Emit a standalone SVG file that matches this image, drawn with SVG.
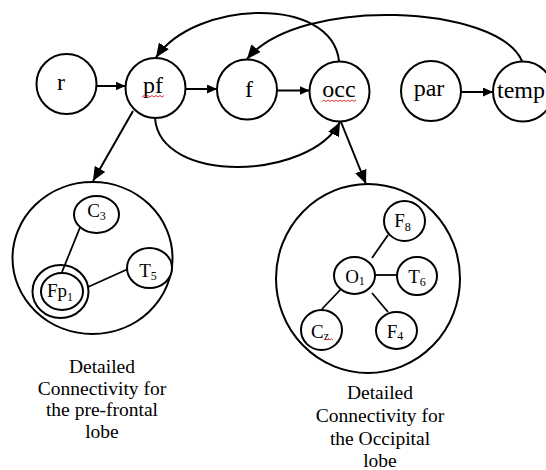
<svg xmlns="http://www.w3.org/2000/svg" width="546" height="470" viewBox="0 0 546 470">
<defs>
<marker id="ah" markerUnits="userSpaceOnUse" markerWidth="14" markerHeight="12" refX="14" refY="6" orient="auto"><path d="M0,0 L14,6 L0,12 z" fill="#000"/></marker>
<marker id="as" markerUnits="userSpaceOnUse" markerWidth="10" markerHeight="9" refX="10" refY="4.5" orient="auto"><path d="M0,0 L10,4.5 L0,9 z" fill="#000"/></marker>
</defs>
<style>
.n{fill:#fff;stroke:#000;stroke-width:2}
.o{fill:none;stroke:#000;stroke-width:2}
.e{fill:none;stroke:#000;stroke-width:2}
.l{fill:none;stroke:#000;stroke-width:1.8}
text{font-family:"Liberation Serif","DejaVu Serif","Times New Roman",Times,serif;fill:#000;text-anchor:middle}
.t{font-size:24px}
.s{font-size:19px}
.c{font-size:19.5px}
.w{fill:none;stroke:#e02020;stroke-width:0.9}
</style>
<g id="connectors">
<path class="e" d="M97 86 L125.5 86" marker-end="url(#as)"/>
<path class="e" d="M185.5 89 L217 89" marker-end="url(#as)"/>
<path class="e" d="M277 90.5 L309.5 90.5" marker-end="url(#as)"/>
<path class="e" d="M461 92 L493 92" marker-end="url(#as)"/>
<path class="e" d="M339 61 C332 -5, 195 0, 156 57.5" marker-end="url(#ah)"/>
<path class="e" d="M522 61 C498 5, 300 -5, 247 59" marker-end="url(#ah)"/>
<path class="e" d="M155 118 C160 185, 310 180, 340 122" marker-end="url(#ah)"/>
<path class="e" d="M133 111 L93 181" marker-end="url(#ah)"/>
<path class="e" d="M341 122 L366 184" marker-end="url(#ah)"/>
</g>
<g id="node-r"><circle class="n" cx="66.5" cy="84" r="30"/><text class="t" x="61" y="90" font-family="Liberation Serif, serif">r</text></g>
<g id="node-pf"><circle class="n" cx="155.5" cy="88" r="30"/><text class="t" x="153" y="93">pf</text>
<path class="w" d="M142 97 l2 -1.5 l2 1.5 l2 -1.5 l2 1.5 l2 -1.5 l2 1.5 l2 -1.5 l2 1.5 l2 -1.5 l2 1.5 l2 -1.5"/></g>
<g id="node-f"><circle class="n" cx="247" cy="89.5" r="30"/><text class="t" x="249" y="97">f</text></g>
<g id="node-occ"><circle class="n" cx="339.5" cy="91.5" r="30"/><text class="t" x="339" y="97">occ</text>
<path class="w" d="M322 101.5 l2 -1.5 l2 1.5 l2 -1.5 l2 1.5 l2 -1.5 l2 1.5 l2 -1.5 l2 1.5 l2 -1.5 l2 1.5 l2 -1.5 l2 1.5 l2 -1.5 l2 1.5 l2 -1.5 l2 1.5 l2 -1.5"/></g>
<g id="node-par"><circle class="n" cx="431" cy="91" r="30"/><text class="t" x="429" y="96">par</text></g>
<g id="node-temp"><circle class="n" cx="523" cy="91.5" r="30"/><text class="t" x="497" y="98" style="text-anchor:start">temp</text></g>
<g id="prefrontal-detail">
<ellipse class="n" cx="92.5" cy="258" rx="80" ry="76"/>
<path class="l" d="M81 225 L62 272"/>
<path class="l" d="M128 269 L88 287"/>
<g id="node-C3"><ellipse class="n" cx="96.5" cy="214.5" rx="22.5" ry="18.5"/><text class="s" x="96.5" y="217">C<tspan font-size="12" dy="3">3</tspan></text></g>
<g id="node-T5"><ellipse class="n" cx="149.5" cy="268" rx="22.5" ry="20"/><text class="s" x="148" y="277">T<tspan font-size="12" dy="3">5</tspan></text></g>
<g id="node-Fp1"><ellipse class="o" cx="60.5" cy="291.5" rx="28" ry="26.5"/><ellipse class="n" cx="62" cy="291.5" rx="21" ry="18.5"/><text class="s" x="60" y="297">Fp<tspan font-size="12" dy="4">1</tspan></text></g>
</g>
<g id="occipital-detail">
<ellipse class="n" cx="368" cy="278.5" rx="92" ry="94.5"/>
<path class="l" d="M372 258 L388 235"/>
<path class="l" d="M375 275 L397 275"/>
<path class="l" d="M342 288 L322 309"/>
<path class="l" d="M372 293 L388 312"/>
<g id="node-F8"><ellipse class="n" cx="404.5" cy="221" rx="20.5" ry="20"/><text class="s" x="402.5" y="227">F<tspan font-size="12" dy="4">8</tspan></text></g>
<g id="node-O1"><ellipse class="n" cx="354.5" cy="275.5" rx="20.5" ry="18.5"/><text class="s" x="355" y="283">O<tspan font-size="12" dy="2">1</tspan></text></g>
<g id="node-T6"><ellipse class="n" cx="417" cy="276" rx="20" ry="19"/><text class="s" x="417" y="283">T<tspan font-size="12" dy="3">6</tspan></text></g>
<g id="node-Cz"><ellipse class="n" cx="321.5" cy="330" rx="20.5" ry="20"/><text class="s" x="320" y="338">C<tspan font-size="12" dy="2">z</tspan></text>
<path class="w" d="M324 340 l1.5 -1.2 l1.5 1.2 l1.5 -1.2 l1.5 1.2 l1.5 -1.2 l1.5 1.2"/></g>
<g id="node-F4"><ellipse class="n" cx="396.5" cy="330.5" rx="20.5" ry="18.5"/><text class="s" x="395" y="338">F<tspan font-size="12" dy="2">4</tspan></text></g>
</g>
<g id="captions">
<text class="c" x="102" y="373">Detailed</text>
<text class="c" x="102" y="394.5">Connectivity for</text>
<text class="c" x="102" y="416">the pre-frontal</text>
<text class="c" x="102" y="437.5">lobe</text>
<text class="c" x="380" y="399">Detailed</text>
<text class="c" x="380" y="422">Connectivity for</text>
<text class="c" x="380" y="445">the Occipital</text>
<text class="c" x="380" y="467">lobe</text>
</g>
</svg>
